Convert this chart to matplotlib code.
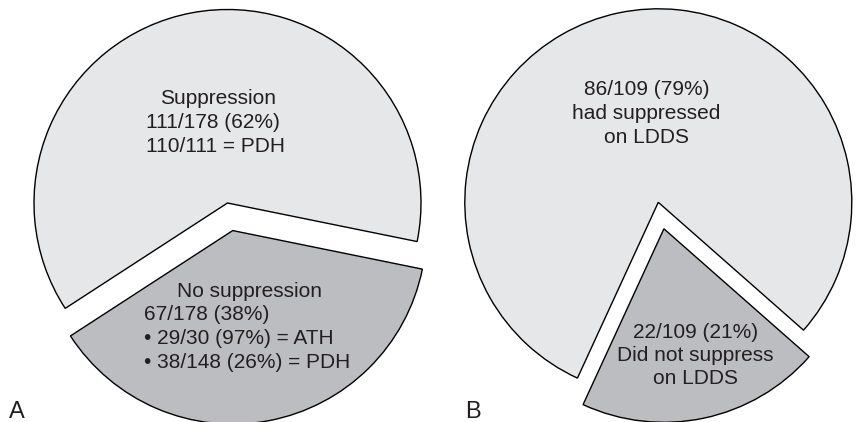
import matplotlib.pyplot as plt

# -------------------------
# DATA
# -------------------------
left_values = [67, 111]          # no suppression, suppression
right_values = [22, 86]          # did not suppress, had suppressed

left_light_lines = ["Suppression", "111/178 (62%)", "110/111 = PDH"]
left_dark_lines = ["No suppression", "67/178 (38%)",
                   "\u2022 29/30 (97%) = ATH", "\u2022 38/148 (26%) = PDH"]
right_light_lines = ["86/109 (79%)", "had suppressed", "on LDDS"]
right_dark_lines = ["22/109 (21%)", "Did not suppress", "on LDDS"]
panel_labels = ["A", "B"]

# -------------------------
# STYLE
# -------------------------
LIGHT = "#e6e7e8"
DARK = "#bcbdc0"
INK = "#231f20"
W, H = 858, 422
R = 193.5                        # pie radius in pixels

plt.rcParams["font.family"] = ["Liberation Sans", "DejaVu Sans"]

fig = plt.figure(figsize=(W / 100, H / 100), dpi=100)
ax = fig.add_axes([0, 0, 1, 1])


def px(x, y):
    # image pixel coords -> data coords (radius = 1)
    return x / R, (H - y) / R


# -------------------------
# PIES
# -------------------------
wedge_kw = dict(edgecolor="black", linewidth=1.0)

ax.pie(left_values, colors=[DARK, LIGHT], explode=[0.145, 0],
       startangle=-147, center=px(227.5, 203), radius=1,
       wedgeprops=wedge_kw)

ax.pie(right_values, colors=[DARK, LIGHT], explode=[0.14, 0],
       startangle=-114.7, center=px(658.3, 202.3), radius=1,
       wedgeprops=wedge_kw)


# -------------------------
# TEXT
# -------------------------
def put_block(lines, first_cx, left_x, base_y, step=23.8, centered=False):
    for i, line in enumerate(lines):
        y = base_y + i * step
        if i == 0 or centered:
            ax.text(*px(first_cx, y), line, ha="center", va="baseline",
                    fontsize=15, color=INK)
        else:
            ax.text(*px(left_x, y), line, ha="left", va="baseline",
                    fontsize=15, color=INK)


put_block(left_light_lines, 218, 146, 104.5)
put_block(left_dark_lines, 249, 144, 296.7)
put_block(right_light_lines, 646.5, None, 95, centered=True)
put_block(right_dark_lines, 695.3, None, 337.5, step=23.4, centered=True)

ax.text(*px(9, 418), panel_labels[0], ha="left", va="baseline",
        fontsize=17, color=INK)
ax.text(*px(465, 418), panel_labels[1], ha="left", va="baseline",
        fontsize=17, color=INK)

ax.set_xlim(0, W / R)
ax.set_ylim(0, H / R)
ax.set_aspect("equal")
ax.axis("off")

fig.savefig("out.png", dpi=100, facecolor="white")
